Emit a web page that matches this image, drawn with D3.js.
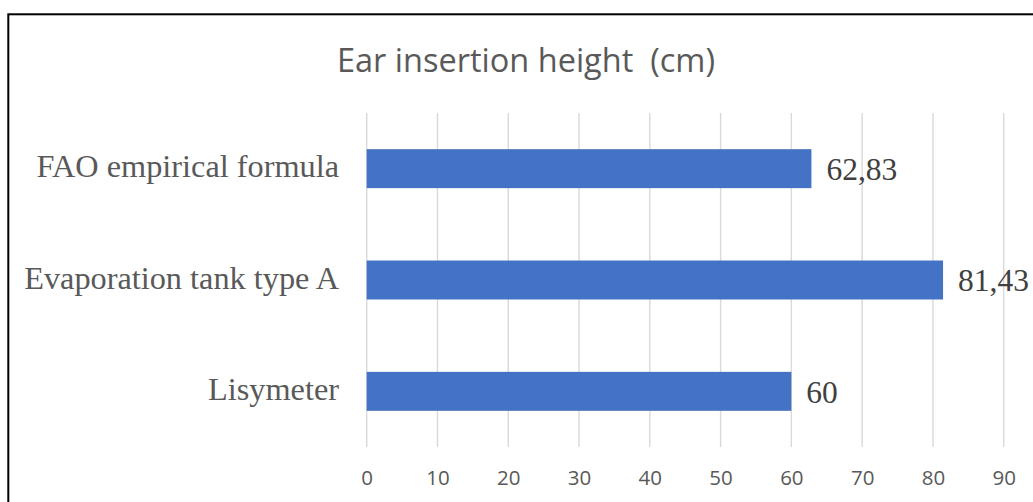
<!DOCTYPE html>
<html>
<head>
<meta charset="utf-8">
<script src="https://cdn.jsdelivr.net/npm/d3@7"></script>
<style>
  html, body { margin: 0; padding: 0; background: #fff; }
  svg { display: block; }
</style>
</head>
<body>
<svg id="chart" width="1033" height="502"></svg>
<script>
// Ear insertion height by method of irrigation scheduling (cm)
const categories = ["FAO empirical formula", "Evaporation tank type A", "Lisymeter"];
const values = [62.83, 81.43, 60];
const valueLabels = ["62,83", "81,43", "60"];
const xTicks = [0, 10, 20, 30, 40, 50, 60, 70, 80, 90];
const title = "Ear insertion height\u00a0 (cm)";

const svg = d3.select("#chart");
const W = 1033, H = 502;

// Outer frame
svg.append("rect")
  .attr("x", 8.3).attr("y", 14.3)
  .attr("width", W + 20).attr("height", H + 20)
  .attr("fill", "#fff")
  .attr("stroke", "#000").attr("stroke-width", 2);

const plot = { left: 366.7, right: 1003.7, top: 113, bottom: 447 };

const x = d3.scaleLinear().domain([0, 90]).range([plot.left, plot.right]);
const y = d3.scaleBand().domain(categories)
  .range([plot.top, plot.bottom])
  .paddingInner(0.65).paddingOuter(0.325);

// Title
svg.append("text")
  .attr("x", 526).attr("y", 72)
  .attr("text-anchor", "middle")
  .attr("font-family", "'Open Sans', sans-serif")
  .attr("font-size", 32.5)
  .attr("fill", "#595959")
  .text(title);

// Vertical gridlines
svg.append("g")
  .selectAll("line")
  .data(xTicks)
  .join("line")
  .attr("x1", d => x(d)).attr("x2", d => x(d))
  .attr("y1", plot.top).attr("y2", plot.bottom)
  .attr("stroke", "#d9d9d9").attr("stroke-width", 1.4);

// X axis tick labels
const xAxis = d3.axisBottom(x).tickValues(xTicks).tickSize(0).tickPadding(0);
const gx = svg.append("g")
  .attr("transform", `translate(0,${plot.bottom})`)
  .call(xAxis);
gx.select(".domain").remove();
gx.selectAll("text")
  .attr("y", 38).attr("dy", null)
  .attr("font-family", "'Open Sans', sans-serif")
  .attr("font-size", 20.5)
  .attr("fill", "#595959");

// Category labels
svg.append("g")
  .selectAll("text")
  .data(categories)
  .join("text")
  .attr("x", 339)
  .attr("y", d => y(d) + y.bandwidth() / 2 + 8.7)
  .attr("text-anchor", "end")
  .attr("font-family", "'Liberation Serif', 'Times New Roman', serif")
  .attr("font-size", 32.3)
  .attr("fill", "#595959")
  .text(d => d);

// Bars
svg.append("g")
  .selectAll("rect")
  .data(values)
  .join("rect")
  .attr("x", x(0))
  .attr("y", (d, i) => y(categories[i]))
  .attr("width", d => x(d) - x(0))
  .attr("height", y.bandwidth())
  .attr("fill", "#4472c4");

// Value labels
svg.append("g")
  .selectAll("text")
  .data(values)
  .join("text")
  .attr("x", d => x(d) + 15)
  .attr("y", (d, i) => y(categories[i]) + y.bandwidth() / 2 + 11.4)
  .attr("font-family", "'Liberation Serif', 'Times New Roman', serif")
  .attr("font-size", 31.5)
  .attr("fill", "#404040")
  .text((d, i) => valueLabels[i]);
</script>
</body>
</html>
